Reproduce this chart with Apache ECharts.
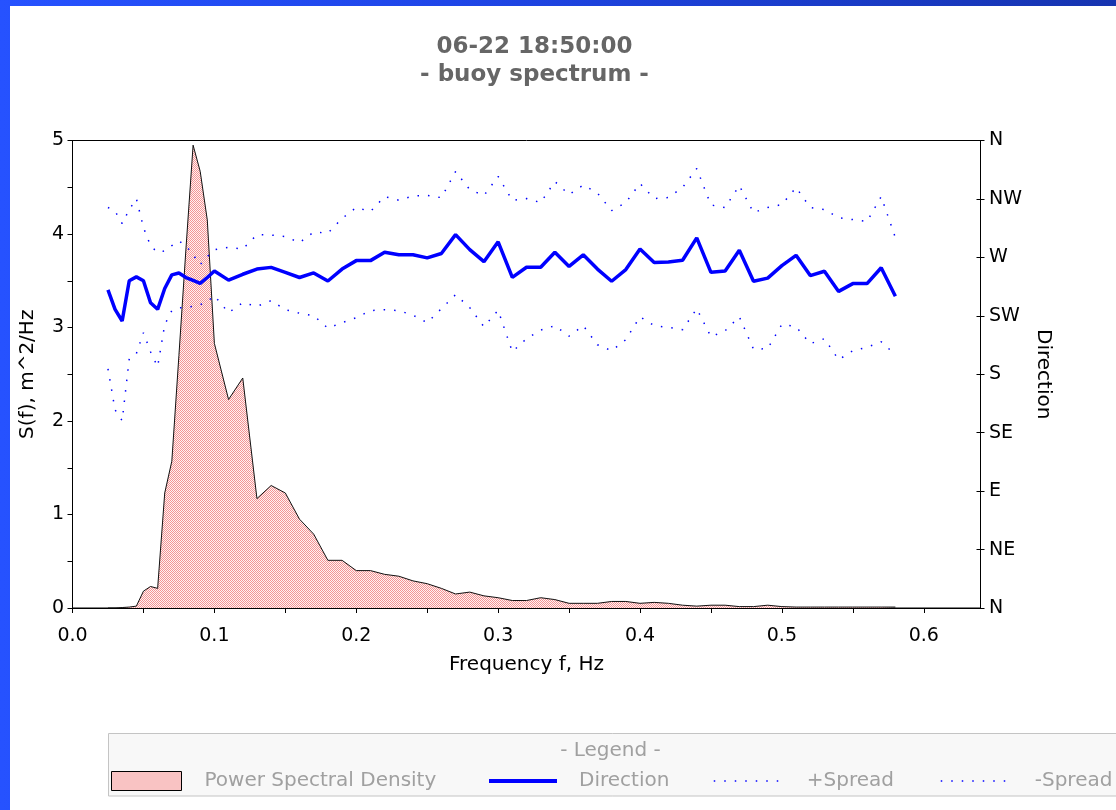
<!DOCTYPE html>
<html><head><meta charset="utf-8">
<script src="https://cdn.jsdelivr.net/npm/echarts@6/dist/echarts.min.js"></script>
<style>
html,body{margin:0;padding:0;width:1116px;height:810px;overflow:hidden;background:linear-gradient(to right,#2652ff 0%,#1f46e8 40%,#1634b0 100%);}
#chart{position:absolute;left:10px;top:6px;width:1106px;height:804px;background:#fff;}
</style></head><body><div id="chart"></div>
<script>
const titleText = '06-22 18:50:00';
const subtitleText = '- buoy spectrum -';
const xName = 'Frequency f, Hz';
const yLeftName = 'S(f), m^2/Hz';
const yRightName = 'Direction';
const dirLabels = ['N','NE','E','SE','S','SW','W','NW','N'];
const seriesNames = ['Power Spectral Density','Direction','+Spread','-Spread'];

const freq = [0.025,0.03,0.035,0.04,0.045,0.05,0.055,0.06,0.065,0.07,0.075,0.08,0.085,0.09,0.095,0.1,
  0.11,0.12,0.13,0.14,0.15,0.16,0.17,0.18,0.19,0.2,
  0.21,0.22,0.23,0.24,0.25,0.26,0.27,0.28,0.29,0.3,
  0.31,0.32,0.33,0.34,0.35,0.36,0.37,0.38,0.39,0.4,
  0.41,0.42,0.43,0.44,0.45,0.46,0.47,0.48,0.49,0.5,
  0.51,0.52,0.53,0.54,0.55,0.56,0.57,0.58];

const psd = [0,0,0.005,0.01,0.02,0.18,0.23,0.21,1.23,1.57,2.7,3.85,4.95,4.67,4.15,2.83,
  2.23,2.46,1.17,1.31,1.23,0.95,0.79,0.51,0.51,0.40,
  0.40,0.36,0.34,0.29,0.26,0.21,0.15,0.17,0.13,0.11,
  0.08,0.08,0.11,0.09,0.05,0.05,0.05,0.07,0.07,0.05,
  0.06,0.05,0.03,0.02,0.03,0.03,0.015,0.015,0.03,0.015,
  0.01,0.01,0.01,0.01,0.01,0.01,0.01,0.01];

const direction = [245,230,221,252,255,252,235,230,246,256.5,258,254.5,252.3,250,254.5,259.5,
  252.5,257,261,262.3,258.5,254.5,258,251.8,261,267.5,
  267.5,274,272,272,269.6,273,287.5,276,266.7,282,
  254.6,262.4,262.4,274,263,272,261,251.6,260.6,276.5,
  266,266.5,267.8,285,258.5,259.5,275.5,251.6,254,263.6,
  271.6,256,259.3,243.8,249.8,249.8,262,240];

const spreadPlus = [308.4,305.7,296,306.8,315.3,293,279,273.7,275,279,282.6,279,272,264.4,270.6,275.8,
  277.8,276.4,287.5,287.2,286,281.4,289.5,288.7,300,308.4,
  305.3,316.8,314,317.2,317.8,316,336.1,322.2,317.6,332.3,
  313.8,315.3,312.2,328.4,318.4,325.7,319.5,306,312.2,326.9,
  315.3,316.1,323.8,338.4,310.3,308.4,325.3,304.5,308.4,310.7,
  323.8,308.4,306.8,300.6,299.1,297.6,316.8,285.2];

const spreadMinus = [184.2,152.6,144.2,192,195.8,212,197.3,185.8,218.2,229,231.3,231.3,232.4,233.6,236,240.5,
  227.4,235.1,232.3,236.7,229.7,227,225.1,215.5,219.7,223.6,
  229,229.7,229,225.5,219.7,230.5,241.3,231.3,216.6,229.3,
  197.3,207.4,214,217.4,209.3,217.4,202.7,198.1,206.6,224.3,
  217.4,216.1,214.3,230.5,208.9,213.5,224.3,199.3,199.7,218.5,
  216.6,203.5,207.4,191.2,198.1,200.8,205,195];

function pairs(ys){ return freq.map((f,i)=>[f, ys[i]]); }

function makePattern(){
  const c=document.createElement('canvas'); c.width=2; c.height=2;
  const g=c.getContext('2d');
  g.fillStyle='#fff2f2'; g.fillRect(0,0,2,2);
  g.fillStyle='#f39494'; g.fillRect(0,0,1,1); g.fillRect(1,1,1,1);
  return c;
}
const pat = {image: makePattern(), repeat: 'repeat'};

const FONT = 'DejaVu Sans';
const legendText = {color:'#a0a0a0', fontSize:20, fontFamily:FONT, padding:[0,0,0,18]};
function mkLegend(name, left, extra){
  return Object.assign({
    data:[name], left:left, top:765, padding:0, itemWidth:70, itemHeight:19,
    textStyle: legendText, selectedMode:false, z:5,
    itemStyle:{opacity:0}
  }, extra||{});
}

const chart = echarts.init(document.getElementById('chart'));
chart.setOption({
  animation:false,
  textStyle:{fontFamily:FONT},
  title:[
    {text: titleText + '\n' + subtitleText, left:524.5, top:27.5, textAlign:'center', padding:0,
     textStyle:{fontFamily:FONT, fontWeight:'bold', fontSize:23, color:'#666666', lineHeight:28}},
    {text:'- Legend -', left:600.5, top:735, textAlign:'center', padding:0, z:5,
     textStyle:{fontFamily:FONT, fontWeight:'normal', fontSize:20, color:'#a0a0a0'}}
  ],
  graphic:[{type:'rect', z:0, shape:{x:98.5, y:727.5, width:1030, height:62.5},
    style:{fill:'#f8f8f8', stroke:'#c4c4c4', lineWidth:1}}],
  grid:{left:58, right:135.5, top:134.5, bottom:202, show:true, borderColor:'#000', borderWidth:1, backgroundColor:'transparent'},
  legend:[
    mkLegend(seriesNames[0], 101, {itemStyle:{}, data:[{name:seriesNames[0], icon:'rect', itemStyle:{color:pat, borderColor:'#000', borderWidth:1}}]}),
    mkLegend(seriesNames[1], 477, {itemWidth:68, textStyle:Object.assign({}, legendText, {padding:[0,0,0,17]}), lineStyle:{width:4, color:'#0000ff'}}),
    mkLegend(seriesNames[2], 703, {itemWidth:70, lineStyle:{width:1.5, color:'#0000ff', type:[1.5,9]}}),
    mkLegend(seriesNames[3], 930, {itemWidth:70, textStyle:Object.assign({}, legendText, {padding:[0,0,0,19]}), lineStyle:{width:1.5, color:'#0000ff', type:[1.5,9]}})
  ],
  xAxis:{type:'value', min:0, max:0.64, interval:0.05,
    name:xName, nameLocation:'middle', nameGap:47,
    nameTextStyle:{fontSize:20, color:'#000', fontFamily:FONT},
    axisLine:{show:true, lineStyle:{color:'#000', width:1}},
    axisTick:{show:true, inside:false, length:5, lineStyle:{color:'#000'}},
    splitLine:{show:false},
    axisLabel:{fontSize:19, color:'#000', margin:18.5, fontFamily:FONT, showMaxLabel:false,
      formatter:function(v){ const t=Math.round(v*100); return (t%10===0 && v<=0.6+1e-9) ? v.toFixed(1) : ''; }}
  },
  yAxis:[
    {type:'value', position:'left', min:0, max:5, interval:0.5,
     name:yLeftName, nameLocation:'middle', nameGap:34.5,
     nameTextStyle:{fontSize:20, color:'#000', fontFamily:FONT},
     axisLine:{show:true, lineStyle:{color:'#000'}},
     axisTick:{show:true, length:5, lineStyle:{color:'#000'}},
     splitLine:{show:false},
     axisLabel:{fontSize:19, color:'#000', margin:8.5, fontFamily:FONT,
       formatter:function(v){ return (Math.abs(v-Math.round(v))<1e-9) ? String(Math.round(v)) : ''; }}},
    {type:'value', position:'right', min:0, max:360, interval:45,
     name:yRightName, nameLocation:'middle', nameGap:50.5, nameRotate:-90,
     nameTextStyle:{fontSize:20, color:'#000', fontFamily:FONT},
     axisLine:{show:true, lineStyle:{color:'#000'}},
     axisTick:{show:true, length:4, lineStyle:{color:'#000'}},
     splitLine:{show:false},
     axisLabel:{fontSize:19, color:'#000', margin:8.5, fontFamily:FONT,
       formatter:function(v){ return dirLabels[Math.round(v/45)]; }}},
    {type:'value', position:'right', min:0, max:360, interval:45,
     axisLine:{show:false}, axisLabel:{show:false}, splitLine:{show:false},
     axisTick:{show:true, inside:true, length:4, lineStyle:{color:'#000'}}}
  ],
  series:[
    {name:seriesNames[0], type:'line', yAxisIndex:0, data:pairs(psd), symbol:'none', z:1,
     lineStyle:{color:'#111', width:1}, itemStyle:{color:pat},
     areaStyle:{color:pat, opacity:1}},
    {name:seriesNames[1], type:'line', yAxisIndex:1, data:pairs(direction), symbol:'none', z:3,
     lineStyle:{color:'#0000ff', width:3.5}, itemStyle:{color:'#0000ff'}},
    {name:seriesNames[2], type:'line', yAxisIndex:1, data:pairs(spreadPlus), symbol:'none', z:2,
     lineStyle:{color:'#0000ff', width:1.5, type:[1.5,9]}, itemStyle:{color:'#0000ff'}},
    {name:seriesNames[3], type:'line', yAxisIndex:1, data:pairs(spreadMinus), symbol:'none', z:2,
     lineStyle:{color:'#0000ff', width:1.5, type:[1.5,9]}, itemStyle:{color:'#0000ff'}}
  ]
});
</script></body></html>
